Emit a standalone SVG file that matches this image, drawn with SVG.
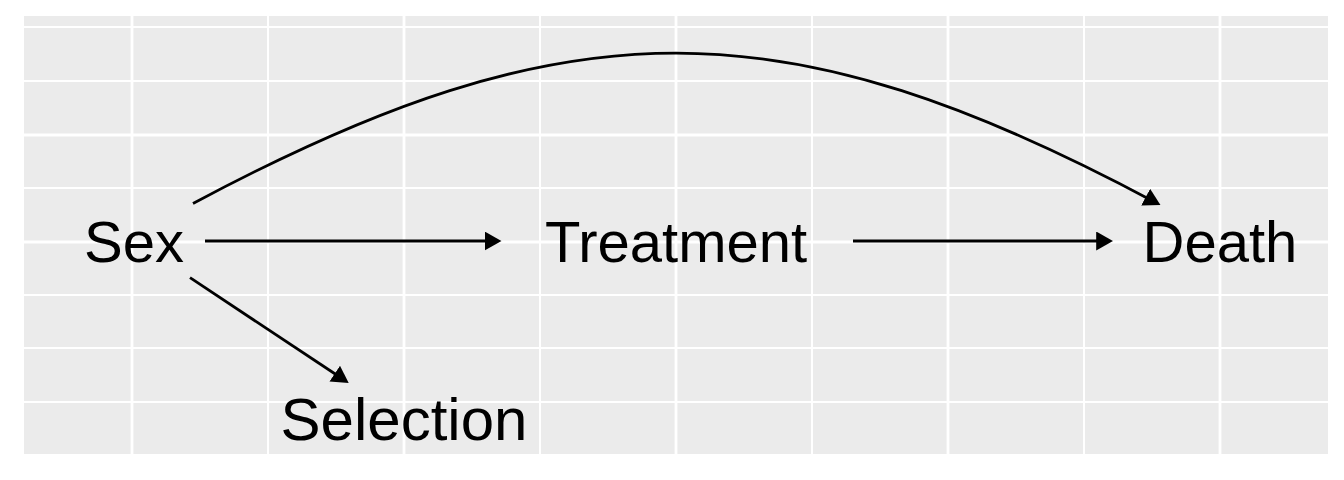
<svg xmlns="http://www.w3.org/2000/svg" width="1344" height="480" viewBox="0 0 1344 480">
<style>
.bg{fill:#FFFFFF}
.panel{fill:#EBEBEB}
.gmaj{stroke:#FFFFFF;stroke-width:2.8;fill:none}
.gmin{stroke:#FFFFFF;stroke-width:2;fill:none}
.edge{stroke:#000000;stroke-width:2.8;fill:none}
.lbl{font-family:"Liberation Sans",Arial,sans-serif;font-size:58px;fill:#000000;text-anchor:middle}
</style>
<defs>
<marker id="ah" markerUnits="userSpaceOnUse" markerWidth="17" markerHeight="19" viewBox="0 0 15 17" refX="11" refY="8.5" orient="auto">
<path d="M0,0 L15,8.5 L0,17 z" fill="#000000"/>
</marker>
</defs>
<rect class="bg" x="0" y="0" width="1344" height="480"/>
<g id="panel">
<rect class="panel" x="24" y="16" width="1304" height="438"/>
<path class="gmin" d="M24,27H1328M24,81H1328M24,188H1328M24,295H1328M24,348H1328M24,402H1328"/>
<path class="gmaj" d="M24,135H1328M24,242H1328"/>
<path class="gmaj" d="M132,16V454M404,16V454M676,16V454M948,16V454M1220,16V454"/>
<path class="gmin" d="M268,16V454M540,16V454M812,16V454M1084,16V454"/>
</g>
<g id="connectors">
<path class="edge" d="M205,241 L497,241" marker-end="url(#ah)"/>
<path class="edge" d="M853,241 L1108.5,241" marker-end="url(#ah)"/>
<path class="edge" d="M190,277.7 L345,380.5" marker-end="url(#ah)"/>
<path class="edge" d="M193,203.5 C569,2.5 784,3.5 1156.5,203" marker-end="url(#ah)"/>
</g>
<g id="node-sex"><text class="lbl" x="134" y="262">Sex</text></g>
<g id="node-treatment"><text class="lbl" x="676" y="262">Treatment</text></g>
<g id="node-death"><text class="lbl" x="1220" y="262">Death</text></g>
<g id="node-selection"><text class="lbl" x="404" y="440" style="font-size:60px">Selection</text></g>
</svg>
